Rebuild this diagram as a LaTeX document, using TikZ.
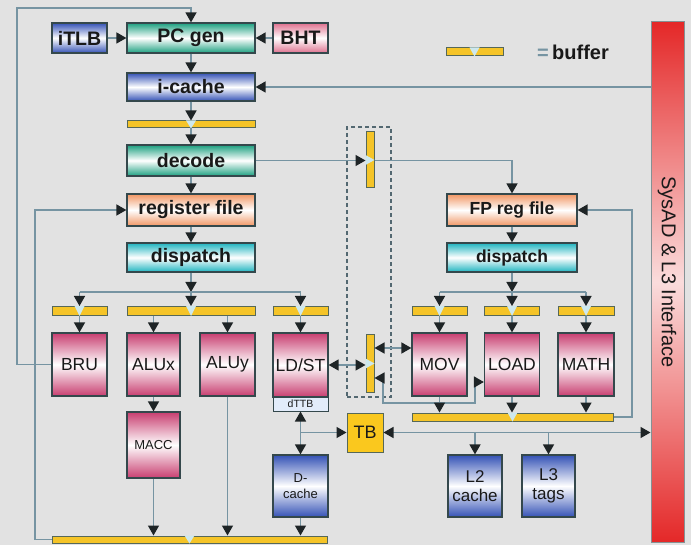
\documentclass[tikz,border=0pt]{standalone}
\usepackage{fontspec}
\setmainfont{Liberation Sans}
\usetikzlibrary{arrows.meta}
\definecolor{bgc}{RGB}{226,226,226}
\definecolor{linec}{RGB}{118,148,162}
\definecolor{tipc}{RGB}{30,36,38}
\definecolor{edgec}{RGB}{52,72,76}
\definecolor{tealc}{RGB}{28,160,128}
\definecolor{bluec}{RGB}{52,82,182}
\definecolor{pinkc}{RGB}{222,112,142}
\definecolor{orangec}{RGB}{240,150,100}
\definecolor{cyanc}{RGB}{30,180,192}
\definecolor{unitc}{RGB}{200,62,112}
\definecolor{yelc}{RGB}{245,196,40}
\definecolor{bufedge}{RGB}{86,104,88}
\definecolor{notchc}{RGB}{205,232,238}
\definecolor{tbc}{RGB}{250,200,30}
\definecolor{redc}{RGB}{228,40,40}
\definecolor{palec}{RGB}{250,220,220}
\definecolor{textc}{RGB}{25,25,25}
\definecolor{dttbc}{RGB}{226,236,250}
\newcommand{\bufnotchh}[1]{\fill[notchc] ([xshift=-5pt]#1.north) -- ([xshift=5pt]#1.north) -- (#1.south) -- cycle;}
\newcommand{\bufnotchv}[1]{\fill[notchc] ([yshift=5pt]#1.west) -- ([yshift=-5pt]#1.west) -- (#1.east) -- cycle;}
\begin{document}
\begin{tikzpicture}[x=1pt,y=-1pt,
  box/.style={draw=edgec, line width=1.2pt, top color=#1, bottom color=#1, middle color=white, inner sep=0pt, text=textc},
  bx/.style={box=#1, font=\fontsize{19.5}{20}\selectfont\bfseries},
  fbx/.style={box=#1, font=\fontsize{17.5}{18}\selectfont\bfseries},
  ux/.style={box=unitc, font=\fontsize{17.5}{18}\selectfont},
  cx/.style={box=bluec, align=center, font=\fontsize{17}{19}\selectfont},
  buf/.style={draw=bufedge, line width=1pt, fill=yelc, inner sep=0pt},
  tip/.style={Triangle[width=11pt,length=10pt,color=tipc]},
  ln/.style={draw=linec, line width=1.5pt},
  arr/.style={draw=linec, line width=1.5pt, -{Triangle[width=11pt,length=10pt,color=tipc]}},
  darr/.style={draw=linec, line width=1.5pt, {Triangle[width=11pt,length=10pt,color=tipc]}-{Triangle[width=11pt,length=10pt,color=tipc]}}
]
\useasboundingbox (0,0) rectangle (691,545);
\fill[bgc] (0,0) rectangle (691,545);

% dashed box
\node[draw=linec!70!black, dashed, dash pattern=on 4pt off 3pt, line width=1.2pt, minimum width=44pt, minimum height=270pt, inner sep=0pt] (dbox) at (369,262) {};

% upper pipeline
\node[bx=bluec, minimum width=55pt, minimum height=30pt] (itlb) at (79.5,38) {iTLB};
\node[bx=tealc, minimum width=128pt, minimum height=30pt] (pcgen) at (191,38) {PC gen};
\node[bx=pinkc, minimum width=55pt, minimum height=30pt] (bht) at (300.5,38) {BHT};
\node[bx=bluec, minimum width=128pt, minimum height=28pt] (icache) at (191,87) {i-cache};
\node[buf, minimum width=128pt, minimum height=7pt] (buf1) at (191,124.5) {};
\node[bx=tealc, minimum width=128pt, minimum height=31pt] (decode) at (191,160.5) {decode};
\node[bx=orangec, minimum width=128pt, minimum height=32pt] (regfile) at (191,210) {register file};
\node[bx=cyanc, minimum width=128pt, minimum height=29pt] (dispatch) at (191,257.5) {dispatch};

% integer buffers and units
\node[buf, minimum width=55pt, minimum height=9pt] (bbru) at (79.5,311) {};
\node[buf, minimum width=128pt, minimum height=9pt] (balu) at (191,311) {};
\node[buf, minimum width=55pt, minimum height=9pt] (bls) at (300.5,311) {};
\node[ux, minimum width=55pt, minimum height=63pt] (bru) at (79.5,364.5) {BRU};
\node[ux, minimum width=53pt, minimum height=63pt] (alux) at (153.5,364.5) {ALUx};
\node[ux, minimum width=55pt, minimum height=63pt] (aluy) at (227.5,364.5) {ALUy};
\node[ux, minimum width=55pt, minimum height=64pt] (ldst) at (300.5,365) {LD/ST};
\node[draw=edgec, line width=1pt, fill=dttbc, inner sep=0pt, minimum width=55pt, minimum height=14pt, text=textc, font=\fontsize{10.5}{11}\selectfont] (dttb) at (300.5,404) {dTTB};
\node[box=unitc, font=\fontsize{13}{14}\selectfont, minimum width=53pt, minimum height=66pt] (macc) at (153.5,445) {MACC};
\node[box=bluec, align=center, font=\fontsize{13}{16}\selectfont, minimum width=55pt, minimum height=62pt] (dcache) at (300.5,486) {D-\\cache};
\node[buf, minimum width=275pt, minimum height=7pt] (bbot) at (189.5,539.5) {};
\node[draw=bufedge, line width=1pt, fill=tbc, inner sep=0pt, minimum width=36pt, minimum height=39pt, text=textc, font=\fontsize{18}{18}\selectfont] (tb) at (365,432.5) {TB};

% vertical buffers
\node[buf, minimum width=8pt, minimum height=56pt] (vbuf1) at (370,160) {};
\node[buf, minimum width=8pt, minimum height=57pt] (vbuf2) at (370,363.5) {};

% FP side
\node[fbx=orangec, minimum width=130pt, minimum height=32pt] (fpreg) at (512,210) {FP reg file};
\node[fbx=cyanc, minimum width=130pt, minimum height=29pt] (fpdisp) at (512,257.5) {dispatch};
\node[buf, minimum width=55pt, minimum height=9pt] (bmov) at (439.5,311) {};
\node[buf, minimum width=55pt, minimum height=9pt] (bload) at (512,311) {};
\node[buf, minimum width=56pt, minimum height=9pt] (bmath) at (586,311) {};
\node[ux, minimum width=55pt, minimum height=63pt] (mov) at (439.5,364.5) {MOV};
\node[ux, minimum width=55pt, minimum height=63pt] (load) at (512,364.5) {LOAD};
\node[ux, minimum width=56pt, minimum height=63pt] (math) at (586,364.5) {MATH};
\node[buf, minimum width=201pt, minimum height=8pt] (fpbot) at (512.5,417) {};
\node[cx, minimum width=54pt, minimum height=62pt] (l2) at (475,486) {L2\\cache};
\node[cx, minimum width=53pt, minimum height=62pt] (l3) at (548.5,486) {L3\\tags};

% SysAD bar
\node[draw=edgec!60, line width=1pt, top color=redc, bottom color=redc, middle color=palec, inner sep=0pt, minimum width=33pt, minimum height=520pt] (sysad) at (667.5,282) {};
\node[rotate=-90, text=textc, font=\fontsize{20}{20}\selectfont] (sysadlabel) at (667,272) {SysAD \& L3 Interface};

% legend
\node[buf, minimum width=57pt, minimum height=8pt] (legbuf) at (474.5,52) {};
\node[anchor=west, text=textc, font=\fontsize{20}{20}\selectfont\bfseries, inner sep=0pt] (leglabel) at (537,52) {{\color{linec}=}\,buffer};

% notches
\bufnotchh{buf1}\bufnotchh{bbru}\bufnotchh{balu}\bufnotchh{bls}
\bufnotchh{bmov}\bufnotchh{bload}\bufnotchh{bmath}
\bufnotchh{bbot}\bufnotchh{fpbot}\bufnotchh{legbuf}
\bufnotchv{vbuf1}\bufnotchv{vbuf2}

% helper coordinates
\coordinate (fbk) at (17,8);
\coordinate (wbx) at (35,0);
\coordinate (fpx) at (632,0);
\coordinate (jI) at (191,292);
\coordinate (jF) at (512,292);
\coordinate (mv) at (0,348);
\coordinate (ldA) at (0,378);
\coordinate (ldB) at (383,403);
\coordinate (ldC) at (475,382);

% connectors: front end
\draw[arr] (bru.west) -| (fbk) -| (pcgen.north);
\draw[arr] (itlb) -- (pcgen);
\draw[arr] (bht) -- (pcgen);
\draw[arr] (pcgen) -- (icache);
\draw[arr] (icache) -- (buf1);
\draw[arr] (buf1) -- (decode);
\draw[arr] (decode) -- (regfile);
\draw[arr] (regfile) -- (dispatch);
\draw[arr] (sysad.west |- icache.east) -- (icache.east);
\draw[arr] (decode.east) -- (vbuf1.west |- decode.east);
\draw[arr] (vbuf1.east |- decode.east) -| (fpreg.north);

% integer issue
\draw[arr] (dispatch.south) -- (jI);
\draw[ln] (bbru.north |- jI) -- (bls.north |- jI);
\draw[arr] (bbru.north |- jI) -- (bbru.north);
\draw[arr] (jI) -- (balu.north);
\draw[arr] (bls.north |- jI) -- (bls.north);
\draw[arr] (bbru) -- (bru);
\draw[arr] (balu.south -| alux.north) -- (alux.north);
\draw[arr] (balu.south -| aluy.north) -- (aluy.north);
\draw[arr] (bls) -- (ldst);
\draw[arr] (alux) -- (macc);
\draw[arr] (macc.south) -- (macc.south |- bbot.north);
\draw[arr] (aluy.south) -- (aluy.south |- bbot.north);
\draw[arr] (dcache.south) -- (dcache.south |- bbot.north);
\draw[arr] (bbot.west) -| (wbx |- regfile.west) -- (regfile.west);

% load/store paths
\draw[darr] (ldst.east) -- (vbuf2.west |- ldst.east);
\draw[darr] (vbuf2.east |- mv) -- (mov.west |- mv);
\draw[darr] (vbuf2.east |- ldA) -| (ldB) -| (ldC) -- (load.west |- ldC);
\draw[darr] (dttb.south) -- (dcache.north);
\draw[arr] (dttb.south |- tb.west) -- (tb.west);
\draw[darr] (tb.east) -- (sysad.west |- tb.east);
\draw[arr] (l2.north |- tb.east) -- (l2.north);
\draw[arr] (l3.north |- tb.east) -- (l3.north);

% FP issue
\draw[arr] (fpreg) -- (fpdisp);
\draw[arr] (fpdisp.south) -- (jF);
\draw[ln] (bmov.north |- jF) -- (bmath.north |- jF);
\draw[arr] (bmov.north |- jF) -- (bmov.north);
\draw[arr] (jF) -- (bload.north);
\draw[arr] (bmath.north |- jF) -- (bmath.north);
\draw[arr] (bmov) -- (mov);
\draw[arr] (bload) -- (load);
\draw[arr] (bmath) -- (math);
\draw[arr] (mov.south) -- (mov.south |- fpbot.north);
\draw[arr] (load.south) -- (load.south |- fpbot.north);
\draw[arr] (math.south) -- (math.south |- fpbot.north);
\draw[arr] (fpbot.east) -| (fpx |- fpreg.east) -- (fpreg.east);
\end{tikzpicture}
\end{document}
